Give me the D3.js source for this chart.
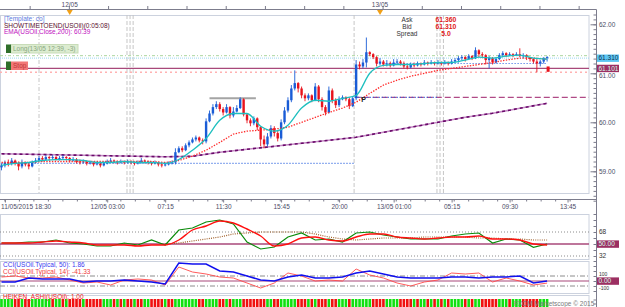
<!DOCTYPE html>
<html>
<head>
<meta charset="utf-8">
<title>USOil 15m</title>
<script src="https://cdn.jsdelivr.net/npm/d3@7"></script>
<style>
    body { margin: 0; background: #fff; }
    svg { display: block; font-family: "Liberation Sans", Arial, sans-serif; }
    .lbl { font-size: 6.5px; }
</style>
</head>
<body>
<svg id="chart" width="625" height="307"></svg>
<script>
// ---- data (15 minute candles, index 0 = 11/05 18:15) ----
const firstOpen = 59.08;
const closes = [59.12,59.18,59.16,59.22,59.16,59.10,59.18,59.14,59.10,59.18,
    59.22,59.27,59.24,59.29,59.27,59.29,59.24,59.27,59.29,59.27,
    59.22,59.24,59.20,59.18,59.20,59.16,59.18,59.14,59.16,59.12,
    59.16,59.20,59.22,59.20,59.18,59.20,59.18,59.20,59.18,59.16,
    59.18,59.22,59.20,59.18,59.16,59.18,59.14,59.12,59.14,59.16,
    59.18,59.39,59.47,59.43,59.53,59.59,59.65,59.69,59.63,59.61,
    60.02,60.18,60.31,60.37,60.27,60.20,60.31,60.14,60.22,60.29,
    60.47,60.16,60.04,59.98,60.08,59.90,59.65,59.55,59.71,59.88,
    59.78,59.67,60.00,60.24,60.45,60.69,60.80,60.69,60.55,60.49,
    60.55,60.45,60.73,60.47,60.31,60.20,60.65,60.45,60.35,60.47,
    60.51,60.47,60.33,60.49,61.18,61.14,61.22,61.43,61.39,61.33,
    61.20,61.24,61.18,61.20,61.16,61.22,61.24,61.20,61.14,61.12,
    61.18,61.16,61.20,61.18,61.22,61.20,61.22,61.20,61.22,61.20,
    61.22,61.20,61.24,61.27,61.31,61.33,61.29,61.35,61.31,61.47,
    61.39,61.37,61.27,61.31,61.22,61.29,61.37,61.41,61.37,61.39,
    61.37,61.39,61.35,61.37,61.33,61.29,61.24,61.20,61.24,61.31,
    61.33];
const highs = [59.16,59.22,59.24,59.27,59.24,59.20,59.24,59.20,59.18,59.22,
    59.27,59.31,59.31,59.33,59.31,59.33,59.31,59.31,59.33,59.31,
    59.29,59.29,59.27,59.24,59.24,59.22,59.22,59.20,59.20,59.18,
    59.20,59.24,59.27,59.24,59.22,59.24,59.22,59.24,59.22,59.20,
    59.22,59.27,59.24,59.22,59.20,59.22,59.20,59.18,59.18,59.20,
    59.22,59.47,59.51,59.51,59.57,59.63,59.69,59.73,59.71,59.67,
    60.08,60.24,60.37,60.43,60.41,60.31,60.37,60.33,60.31,60.35,
    60.51,60.49,60.18,60.08,60.12,60.10,59.92,59.73,59.78,59.94,
    59.92,59.82,60.06,60.31,60.51,60.76,61.06,60.82,60.73,60.59,
    60.59,60.57,60.80,60.76,60.51,60.35,60.73,60.69,60.49,60.53,
    60.55,60.53,60.51,60.53,61.27,61.24,61.29,61.73,61.45,61.41,
    61.35,61.31,61.27,61.27,61.24,61.29,61.29,61.27,61.24,61.18,
    61.22,61.22,61.24,61.22,61.27,61.24,61.27,61.24,61.27,61.24,
    61.27,61.24,61.29,61.31,61.35,61.37,61.35,61.39,61.37,61.53,
    61.49,61.43,61.39,61.35,61.33,61.33,61.41,61.45,61.43,61.43,
    61.41,61.43,61.51,61.41,61.39,61.33,61.31,61.29,61.27,61.33,
    61.35];
const lows = [59.02,59.08,59.10,59.12,59.12,59.02,59.06,59.10,59.04,59.08,
    59.16,59.20,59.20,59.22,59.22,59.24,59.22,59.22,59.24,59.22,
    59.18,59.20,59.16,59.14,59.16,59.12,59.14,59.10,59.12,59.08,
    59.10,59.14,59.18,59.16,59.14,59.16,59.14,59.16,59.14,59.12,
    59.14,59.16,59.16,59.14,59.12,59.14,59.10,59.08,59.10,59.12,
    59.14,59.14,59.37,59.39,59.41,59.49,59.57,59.61,59.59,59.55,
    59.57,60.00,60.14,60.27,60.22,60.14,60.18,60.08,60.10,60.20,
    60.27,60.12,59.98,59.92,59.94,59.84,59.51,59.47,59.51,59.67,
    59.71,59.61,59.63,59.96,60.20,60.41,60.65,60.61,60.49,60.43,
    60.45,60.41,60.43,60.41,60.24,60.14,60.18,60.39,60.29,60.31,
    60.45,60.43,60.27,60.31,60.45,61.08,61.10,61.12,61.35,61.29,
    61.14,61.16,61.14,61.14,61.12,61.14,61.18,61.16,61.10,61.08,
    61.10,61.12,61.14,61.14,61.16,61.16,61.18,61.16,61.18,61.16,
    61.18,61.16,61.18,61.22,61.22,61.27,61.24,61.27,61.27,61.29,
    61.33,61.31,61.18,61.10,61.18,61.20,61.27,61.33,61.33,61.35,
    61.33,61.35,61.33,61.31,61.27,61.24,61.20,61.02,61.14,61.20,
    61.24];

// moving averages, read every 4th candle (ema200 every 8th)
const ema10 = [59.12,59.16,59.18,59.22,59.24,59.24,59.22,59.18,59.18,59.20,59.18,59.18,59.16,59.24,
    59.43,59.67,60.04,60.18,60.18,59.92,59.82,59.94,60.29,60.45,60.43,60.49,60.55,61.00,61.16,61.18,
    61.18,61.20,61.22,61.22,61.27,61.33,61.31,61.35,61.37,61.31,61.29];
const ema30 = [59.18,59.18,59.18,59.20,59.20,59.20,59.20,59.20,59.20,59.20,59.20,59.20,59.18,59.22,
    59.31,59.43,59.59,59.76,59.82,59.84,59.86,59.90,60.00,60.10,60.20,60.29,60.41,60.59,60.76,60.86,
    60.94,61.00,61.06,61.10,61.14,61.18,61.22,61.27,61.31,61.31,61.29];
const ema200 = [59.357,59.347,59.337,59.327,59.316,59.306,59.296,59.306,59.388,59.449,59.510,
    59.571,59.633,59.694,59.796,59.898,60.000,60.102,60.184,60.286,60.388];

// oscillator panel, every 4th candle (brown one starts at candle 48)
const oscGreen = [51.5,51.5,53,53,56,51.5,50,47,47,51.5,48.5,56,48.5,71,74,83,86,80,53,42.5,45.5,
    60.5,66.5,56,57.5,53,66.5,68,63.5,60.5,57.5,57.5,57.5,62,65,66.5,51.5,57.5,56,45,50];
const oscRed = [51.5,51.5,51.5,53,54.5,53,51.5,48.5,48.5,48.5,47,48.5,48.5,56,71,77,84.5,81.5,72.5,
    62,47,50,59,60.5,56,54.5,60.5,65,65,60.5,59,57.5,59,60.5,60.5,62,57.5,57.5,56,50,48.5];
const oscBrown = [50,51.5,54.5,57.5,60.5,65,66.5,68,68,68,68,65,60.5,57.5,56,57.5,59,59,59,60.5,
    60.5,60.5,60.5,59,59,57.5,57.5,56,56];

// CCI, every 4th candle
const cci50 = [-20,-20,60,40,40,40,-20,0,0,20,0,-20,-60,360,340,340,200,180,100,20,0,80,120,60,60,
    80,160,200,140,80,60,60,60,80,80,60,80,80,100,-40,2];
const cci14 = [80,100,60,60,80,20,-40,-20,-80,20,40,20,-80,280,180,140,80,60,-40,-140,-40,160,100,
    0,20,0,240,120,60,-40,-100,-20,20,160,140,160,-20,60,0,-80,-41.33];

// heiken ashi colour per candle
const haColours = 'GGGGRRGRRG' + 'GGGGGRGGRG' + 'RRRRGRRRRR' + 'GGGRGRGRRG' + 'RRGGRRRRGR' +
    'RGGGGGGGRR' + 'GGGGRRGRGG' + 'GRRRRRRRGG' + 'RRGGGGGRRR' + 'GRGRRRGRRG' + 'GGRGGGGGGR' +
    'RRRGGGGRRR' + 'RGRGGRGRGR' + 'GRGGGGRGRG' + 'GRRRRRGGGR' + 'GGGRRRRRGG' + 'G';

// axes
const tickIdx = [1, 31, 48, 65, 82, 99, 115, 132, 149, 166];
const tickLabels = ['11/05/2015 18:30', '12/05 03:00', '07:15', '11:30', '15:45', '20:00',
    '13/05 01:00', '05:15', '09:30', '13:45'];
const dateIdx = [20, 111];
const dateLabels = ['12/05', '13/05'];
const sessionIdx = [11, 36.8, 37.7, 38.6, 103.4, 127.7, 128.6, 129.6];
const priceLabels = [62, 61, 60, 59];

// levels
const ask = 61.36, bid = 61.31, stop = 61.101, pinkLevel = 61.02;
const lowLine = 59.16, pivot = 60.51, highBar = 60.49, dayLine = 61.20;

// ---- layout ----
const svg = d3.select('#chart');
const plotR = 589, axisX = 596.5;
const axisCol = '#7c7c8c', textCol = '#4c4c66', frameCol = '#ccd2de';

const x = d3.scaleLinear().domain([0, 160]).range([1.5, 547.1]);
const yP = d3.scaleLinear().domain([59, 62]).range([171.3, 24.3]);
const yO = d3.scaleLinear().domain([32, 68]).range([256, 232]);
const yC = d3.scaleLinear().domain([-100, 100]).range([286, 276]);

const defs = svg.append('defs');
function addClip(id, y0, y1) {
    defs.append('clipPath').attr('id', id).append('rect')
        .attr('x', 0).attr('y', y0).attr('width', plotR).attr('height', y1 - y0);
}
addClip('cMain', 15, 193);
addClip('cOsc', 214, 259);
addClip('cCci', 261, 293);
addClip('cHa', 295, 307);

[[15, 193], [214, 259], [261, 293], [295, 312]].forEach(([a, b]) => {
    svg.append('rect').attr('x', 0.5).attr('y', a + 0.5).attr('width', plotR - 0.5).attr('height', b - a)
        .attr('fill', 'none').attr('stroke', frameCol);
});

// top date axis
svg.append('line').attr('x1', 0).attr('x2', axisX).attr('y1', 9.5).attr('y2', 9.5).attr('stroke', axisCol);
d3.range(8.4, 172, 11.5).forEach(i => {
    svg.append('line').attr('x1', x(i)).attr('x2', x(i)).attr('y1', 6).attr('y2', 9.5).attr('stroke', axisCol);
});
dateIdx.forEach((d, k) => {
    svg.append('text').attr('class', 'lbl').attr('x', x(d)).attr('y', 6.5).attr('text-anchor', 'middle')
        .attr('fill', textCol).text(dateLabels[k]);
    svg.append('path').attr('d', `M${x(d) - 3},10 L${x(d) + 3},10 L${x(d)},15 Z`).attr('fill', '#f0a018');
});

// right axis
svg.append('line').attr('x1', axisX).attr('x2', axisX).attr('y1', 9.5).attr('y2', 307).attr('stroke', axisCol);
const minorP = d3.range(584, 623).map(v => v / 10);
const pAxisMinor = svg.append('g').attr('transform', `translate(${axisX},0)`)
    .call(d3.axisLeft(yP).tickValues(minorP).tickSize(3).tickFormat(''));
const pAxisMajor = svg.append('g').attr('transform', `translate(${axisX},0)`)
    .call(d3.axisLeft(yP).tickValues(priceLabels).tickSize(6).tickFormat(''));
[pAxisMinor, pAxisMajor].forEach(g => {
    g.select('.domain').remove();
    g.selectAll('line').attr('stroke', axisCol);
});
priceLabels.forEach(v => {
    // 61.00 sits just under the stop box, as in the original
    const dy = v === 61 ? 2.6 : 0;
    svg.append('text').attr('class', 'lbl').attr('x', 599).attr('y', yP(v) + dy).attr('dy', '0.35em')
        .attr('fill', textCol).text(v.toFixed(2));
});
function priceBox(y, label, bg, fg) {
    svg.append('rect').attr('x', 597).attr('y', y - 3.6).attr('width', 22).attr('height', 7.4).attr('fill', bg);
    svg.append('text').attr('class', 'lbl').attr('x', 598.5).attr('y', y).attr('dy', '0.35em')
        .attr('fill', fg).text(label);
}
priceBox(yP(bid), '61.310', '#5cc6f2', '#103050');
priceBox(yP(stop), '61.101', '#9c2f62', '#d8fff0');

// bottom time axis
svg.append('line').attr('x1', 0).attr('x2', axisX).attr('y1', 199.5).attr('y2', 199.5).attr('stroke', axisCol);
const tAxis = svg.append('g').attr('transform', 'translate(0,199.5)')
    .call(d3.axisBottom(x).tickValues(tickIdx).tickSize(3).tickPadding(1.5)
        .tickFormat((d, i) => tickLabels[i]));
tAxis.select('.domain').remove();
tAxis.selectAll('line').attr('stroke', axisCol);
tAxis.selectAll('text').attr('fill', textCol).style('font-size', '6.5px')
    .style('font-family', '"Liberation Sans", Arial, sans-serif');
tAxis.select('.tick text').attr('text-anchor', 'start').attr('x', -x(tickIdx[0]) + 0.5);
d3.range(-3.25, 170, 4.25).forEach(i => {
    svg.append('line').attr('x1', x(i)).attr('x2', x(i)).attr('y1', 199.5).attr('y2', 201.5).attr('stroke', axisCol);
});

// ---- main price panel ----
const gm = svg.append('g').attr('clip-path', 'url(#cMain)');

sessionIdx.forEach((d, k) => {
    gm.append('line').attr('x1', x(d)).attr('x2', x(d)).attr('y1', 15).attr('y2', 193)
        .attr('stroke', '#c6c6c6').attr('stroke-dasharray', k === 0 ? '4,2,1,2' : '4,2');
});

function hline(v, i0, i1, col, dash, w) {
    gm.append('line').attr('x1', i0 === null ? 0 : x(i0)).attr('x2', i1 === null ? plotR : x(i1))
        .attr('y1', yP(v)).attr('y2', yP(v)).attr('stroke', col)
        .attr('stroke-width', w).attr('stroke-dasharray', dash);
}
hline(pinkLevel, null, null, '#ffb2b2', '2,3', 1.6);
hline(ask, null, null, '#acd6a0', '3,2,1,2', 1);
hline(bid, null, null, '#9cd6f0', '1,1', 1);
hline(stop, null, null, '#a8487a', null, 1.3);
hline(lowLine, 0, 103.3, '#2a62e0', '1,2', 1.2);
hline(pivot, 103.6, null, '#b04a86', '6,3', 1.2);
hline(pivot, 103.6, 128, '#2a62e0', '1,2', 1.2);
hline(dayLine, 110, 160, '#2a62e0', '1,2', 1.2);
hline(highBar, 61, 74.6, '#a4a4a4', null, 2);

// purple EMA 200: light underlay + dark dashes
const line200 = d3.line().x((d, k) => x(k * 8)).y(d => yP(d));
gm.append('path').attr('d', line200(ema200)).attr('fill', 'none').attr('stroke', '#c48ac4').attr('stroke-width', 1.6);
gm.append('path').attr('d', line200(ema200)).attr('fill', 'none').attr('stroke', '#6a0a6a')
    .attr('stroke-width', 1.6).attr('stroke-dasharray', '3,3');

// candles
const opens = closes.map((c, i) => i === 0 ? firstOpen : closes[i - 1]);
const upCol = '#1a5cd6', downCol = '#e8121c';
const candles = gm.append('g');
candles.selectAll('line').data(closes).join('line')
    .attr('x1', (d, i) => x(i)).attr('x2', (d, i) => x(i))
    .attr('y1', (d, i) => yP(highs[i])).attr('y2', (d, i) => yP(lows[i]))
    .attr('stroke', (d, i) => d >= opens[i] ? upCol : downCol).attr('stroke-width', 0.9);
candles.selectAll('rect').data(closes).join('rect')
    .attr('x', (d, i) => x(i) - 1.2).attr('width', 2.4)
    .attr('y', (d, i) => yP(Math.max(d, opens[i])))
    .attr('height', (d, i) => Math.max(1, Math.abs(yP(d) - yP(opens[i]))))
    .attr('fill', (d, i) => d >= opens[i] ? upCol : downCol);

// trade marker on the last candle
gm.append('rect').attr('x', x(160) - 0.5).attr('y', yP(61.14)).attr('width', 3)
    .attr('height', yP(61.03) - yP(61.14)).attr('fill', '#e8121c');

const line4 = d3.line().x((d, k) => x(k * 4)).y(d => yP(d));
gm.append('path').attr('d', line4(ema30)).attr('fill', 'none').attr('stroke', '#ff2a2a')
    .attr('stroke-width', 1.3).attr('stroke-dasharray', '1.4,1.4');
gm.append('path').attr('d', line4.curve(d3.curveMonotoneX)(ema10)).attr('fill', 'none')
    .attr('stroke', '#1ebfbf').attr('stroke-width', 1.3);

gm.append('text').attr('x', x(105.5)).attr('y', yP(pivot) + 5).attr('fill', '#222')
    .style('font-size', '7px').style('font-weight', 'bold').text('P');

// header texts
svg.append('text').attr('class', 'lbl').attr('x', 4).attr('y', 21).attr('fill', '#5a7ae0').text('[Template: co]');
svg.append('text').attr('class', 'lbl').attr('x', 4).attr('y', 27.5).attr('fill', '#5a1030').text('SHOWTIMETOEND(USOil)(0:05:08)');
svg.append('text').attr('class', 'lbl').attr('x', 4).attr('y', 34).attr('fill', '#c010c0').text('EMA(USOil.Close,200): 60.39');

const info = [['Ask', '61.360', 22], ['Bid', '61.310', 29], ['Spread', '5.0', 36]];
info.forEach(([k, v, y]) => {
    svg.append('text').attr('class', 'lbl').attr('x', 407).attr('y', y).attr('text-anchor', 'middle')
        .attr('fill', '#333').text(k);
    svg.append('text').attr('x', 446).attr('y', y).attr('text-anchor', 'middle').attr('fill', '#e01818')
        .style('font-size', '6.8px').style('font-weight', 'bold').text(v);
});

// order labels
svg.append('rect').attr('x', 11).attr('y', 44.5).attr('width', 67).attr('height', 8.5).attr('fill', '#dcecd0').attr('stroke', '#c8dcb8');
svg.append('rect').attr('x', 6).attr('y', 44.5).attr('width', 5).attr('height', 8.5).attr('fill', '#2f6f2a');
svg.append('text').attr('class', 'lbl').attr('x', 13).attr('y', 51).attr('fill', '#8aa880').text('Long(13/05 12:39, -3)');
svg.append('rect').attr('x', 11).attr('y', 61.5).attr('width', 17).attr('height', 8.5).attr('fill', '#f27878');
svg.append('rect').attr('x', 6).attr('y', 61.5).attr('width', 5).attr('height', 8.5).attr('fill', '#2f6f2a');
svg.append('text').attr('class', 'lbl').attr('x', 13).attr('y', 68).attr('fill', '#c03838').text('Stop');

// ---- oscillator panel ----
const go = svg.append('g').attr('clip-path', 'url(#cOsc)');
[68, 32].forEach(v => go.append('line').attr('x1', 0).attr('x2', plotR).attr('y1', yO(v)).attr('y2', yO(v))
    .attr('stroke', '#8c8c8c').attr('stroke-dasharray', '1,2'));
go.append('line').attr('x1', 0).attr('x2', plotR).attr('y1', yO(50)).attr('y2', yO(50))
    .attr('stroke', '#a8487a').attr('stroke-width', 1.3);
const lineO = d3.line().x((d, k) => x(k * 4)).y(d => yO(d));
go.append('path').attr('d', d3.line().x((d, k) => x(48 + k * 4)).y(d => yO(d))(oscBrown))
    .attr('fill', 'none').attr('stroke', '#a0602a').attr('stroke-width', 1.2).attr('stroke-dasharray', '1,1.2');
go.append('path').attr('d', lineO(oscGreen)).attr('fill', 'none').attr('stroke', '#0a8a0a').attr('stroke-width', 1.2);
go.append('path').attr('d', lineO.curve(d3.curveMonotoneX)(oscRed)).attr('fill', 'none').attr('stroke', '#ff1010').attr('stroke-width', 1.4);

const oAxis = svg.append('g').attr('transform', `translate(${axisX},0)`)
    .call(d3.axisLeft(yO).tickValues(d3.range(32, 96, 9)).tickSize(3).tickFormat(''));
oAxis.select('.domain').remove();
oAxis.selectAll('line').attr('stroke', axisCol);
[68, 32].forEach(v => svg.append('text').attr('class', 'lbl').attr('x', 599).attr('y', yO(v)).attr('dy', '0.35em')
    .attr('fill', '#333').text(v));
priceBox(yO(50), '50.00', '#9c2f62', '#d8fff0');

// ---- CCI panel ----
const gc = svg.append('g').attr('clip-path', 'url(#cCci)');
[100, -100].forEach(v => gc.append('line').attr('x1', 0).attr('x2', plotR).attr('y1', yC(v)).attr('y2', yC(v))
    .attr('stroke', '#8c8c8c').attr('stroke-dasharray', '5,2,1,2'));
gc.append('line').attr('x1', 0).attr('x2', plotR).attr('y1', yC(0)).attr('y2', yC(0))
    .attr('stroke', '#a8487a').attr('stroke-width', 1.2);
const lineC = d3.line().x((d, k) => x(k * 4)).y(d => yC(d));
gc.append('path').attr('d', lineC(cci14)).attr('fill', 'none').attr('stroke', '#ff4a4a').attr('stroke-width', 0.9);
gc.append('path').attr('d', lineC(cci50)).attr('fill', 'none').attr('stroke', '#1010ee').attr('stroke-width', 1.5);
svg.append('text').attr('class', 'lbl').attr('x', 3).attr('y', 267).attr('fill', '#3b3bf0').text('CCI(USOil.Typical, 50): 1.86');
svg.append('text').attr('class', 'lbl').attr('x', 3).attr('y', 274).attr('fill', '#f03a3a').text('CCI(USOil.Typical, 14): -41.33');

const cAxis = svg.append('g').attr('transform', `translate(${axisX},0)`)
    .call(d3.axisLeft(yC).tickValues(d3.range(-200, 401, 100)).tickSize(3).tickFormat(''));
cAxis.select('.domain').remove();
cAxis.selectAll('line').attr('stroke', axisCol);
// small 100 / -100 labels squeezed around the zero box
[[100, 274.4], [-100, 288.6]].forEach(([v, y]) => svg.append('text').attr('x', 599).attr('y', y)
    .attr('dy', '0.35em').attr('fill', '#333').style('font-size', '5px').text(v));
priceBox(yC(0), '0.00', '#9c2f62', '#d8fff0');

// ---- Heiken Ashi panel ----
const gh = svg.append('g').attr('clip-path', 'url(#cHa)');
gh.selectAll('rect').data(haColours.split('')).join('rect')
    .attr('x', (d, i) => x(i) - 1.3).attr('width', 2.6).attr('y', 299).attr('height', 9)
    .attr('fill', d => d === 'G' ? '#10e010' : '#f01010');
svg.append('text').attr('class', 'lbl').attr('x', 3).attr('y', 299).attr('fill', '#f02020').text('HEIKEN_ASHI(USOil): 1.00');
[300, 304].forEach(y => svg.append('line').attr('x1', axisX - 3).attr('x2', axisX).attr('y1', y).attr('y2', y).attr('stroke', axisCol));
svg.append('text').attr('class', 'lbl').attr('x', 514).attr('y', 305.5).attr('fill', '#7a7a7a').text('FXCM Marketscope \u00a9 2015');
</script>
</body>
</html>
